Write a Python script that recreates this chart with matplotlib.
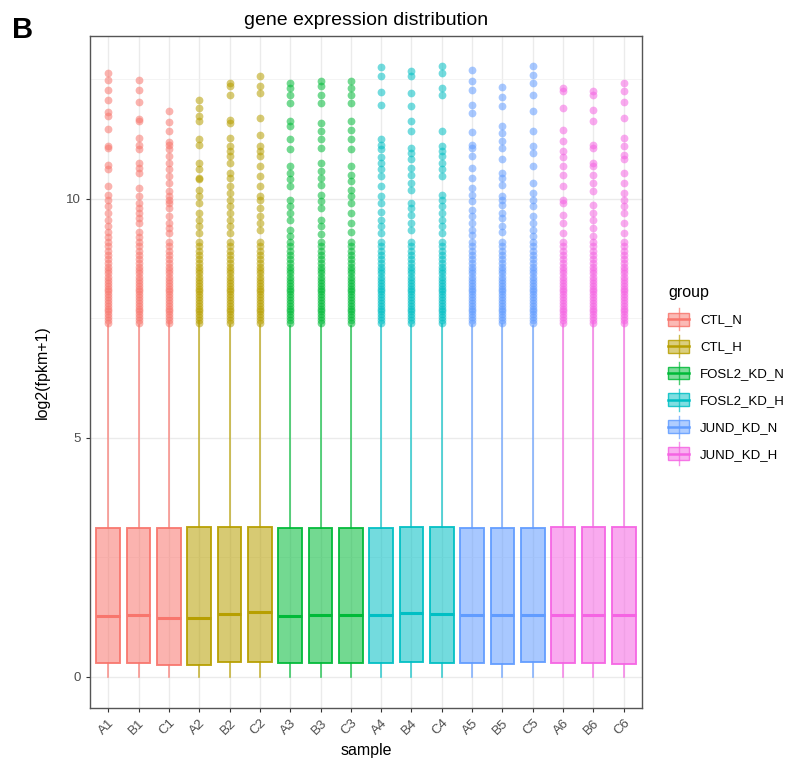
import numpy as np
import matplotlib
matplotlib.use("Agg")
from matplotlib import pyplot as plt
from matplotlib.patches import Rectangle
from matplotlib.lines import Line2D
from matplotlib.legend_handler import HandlerBase

plt.rcParams['font.family'] = ['Liberation Sans', 'DejaVu Sans']

# samples and groups
samples = ["A1", "B1", "C1", "A2", "B2", "C2", "A3", "B3", "C3",
           "A4", "B4", "C4", "A5", "B5", "C5", "A6", "B6", "C6"]
groups = ["CTL_N", "CTL_H", "FOSL2_KD_N", "FOSL2_KD_H", "JUND_KD_N", "JUND_KD_H"]
group_colors = ["#F8766D", "#B79F00", "#00BA38", "#00BFC4", "#619CFF", "#F564E3"]

# box stats (log2(fpkm+1))
q1 = [0.29, 0.30, 0.25, 0.25, 0.31, 0.31, 0.30, 0.30, 0.30,
      0.30, 0.31, 0.30, 0.30, 0.28, 0.31, 0.30, 0.29, 0.28]
med = [1.28, 1.30, 1.24, 1.24, 1.32, 1.35, 1.28, 1.30, 1.30,
       1.30, 1.33, 1.31, 1.30, 1.30, 1.30, 1.30, 1.30, 1.30]
q3 = [3.11, 3.12, 3.12, 3.13, 3.13, 3.13, 3.11, 3.12, 3.11,
      3.12, 3.13, 3.13, 3.12, 3.12, 3.12, 3.14, 3.14, 3.14]
whislo = [0.0] * 18
whishi = [7.35, 7.36, 7.42, 7.44, 7.36, 7.36, 7.33, 7.35, 7.33,
          7.35, 7.36, 7.38, 7.35, 7.38, 7.34, 7.38, 7.41, 7.43]

# dense outlier tail just above the upper whisker (shared by all samples)
dense_tail = [7.40, 7.46, 7.52, 7.58, 7.64, 7.70, 7.76, 7.82, 7.88, 7.94, 8.0, 8.06,
              8.12, 8.18, 8.24, 8.30, 8.37, 8.44, 8.51, 8.58, 8.66, 8.74, 8.82, 8.91,
              9.0, 9.1]

# sparser upper outliers per sample
upper = {
    "A1": [12.62, 12.49, 12.27, 12.06, 11.81, 11.72, 11.46, 11.11, 11.06, 10.71, 10.61,
           10.27, 10.08, 9.98, 9.84, 9.70, 9.56, 9.42, 9.30, 9.20],
    "B1": [12.49, 12.27, 12.02, 11.67, 11.62, 11.27, 11.13, 11.03, 10.75, 10.64, 10.54,
           10.22, 10.05, 9.91, 9.80, 9.70, 9.59, 9.49, 9.30, 9.20],
    "C1": [11.84, 11.60, 11.41, 11.18, 11.13, 11.03, 10.89, 10.75, 10.61, 10.47, 10.33,
           10.15, 10.05, 9.98, 9.91, 9.80, 9.63, 9.49, 9.38, 9.28],
    "A2": [12.07, 11.90, 11.72, 11.62, 11.24, 11.13, 10.75, 10.61, 10.43, 10.40, 10.19,
           10.05, 9.91, 9.70, 9.56, 9.42, 9.28],
    "B2": [12.42, 12.35, 12.17, 11.65, 11.58, 11.27, 11.10, 10.99, 10.89, 10.75, 10.54,
           10.43, 10.26, 10.12, 9.98, 9.84, 9.70, 9.56, 9.42, 9.28],
    "C2": [12.56, 12.35, 12.21, 11.69, 11.34, 11.10, 10.99, 10.89, 10.68, 10.47, 10.26,
           10.05, 9.98, 9.80, 9.63, 9.49, 9.35],
    "A3": [12.42, 12.31, 12.17, 12.00, 11.62, 11.51, 11.24, 11.03, 10.68, 10.54, 10.40,
           10.26, 9.98, 9.84, 9.70, 9.56, 9.35, 9.22],
    "B3": [12.45, 12.35, 12.17, 12.00, 11.58, 11.41, 11.24, 11.06, 10.75, 10.57, 10.43,
           10.29, 10.08, 9.94, 9.80, 9.56, 9.42, 9.25],
    "C3": [12.45, 12.31, 12.17, 12.00, 11.62, 11.44, 11.24, 11.03, 10.68, 10.50, 10.36,
           10.19, 10.05, 9.91, 9.70, 9.49, 9.30],
    "A4": [12.75, 12.56, 12.22, 11.96, 11.24, 11.13, 11.03, 10.86, 10.75, 10.61, 10.47,
           10.26, 10.05, 9.91, 9.73, 9.56, 9.42, 9.28],
    "B4": [12.66, 12.56, 12.21, 11.93, 11.62, 11.41, 11.06, 10.96, 10.82, 10.64, 10.50,
           10.33, 10.19, 9.91, 9.80, 9.66, 9.49, 9.35],
    "C4": [12.77, 12.63, 12.31, 12.17, 11.41, 11.10, 10.99, 10.89, 10.75, 10.61, 10.47,
           10.08, 9.98, 9.84, 9.70, 9.56, 9.42, 9.28],
    "A5": [12.68, 12.45, 12.28, 11.96, 11.79, 11.39, 11.13, 11.06, 10.89, 10.64, 10.43,
           10.22, 10.08, 9.94, 9.77, 9.63, 9.49, 9.35, 9.24],
    "B5": [12.34, 12.13, 11.93, 11.51, 11.37, 11.20, 11.06, 10.82, 10.54, 10.43, 10.29,
           10.05, 9.98, 9.87, 9.70, 9.59, 9.42, 9.31],
    "C5": [12.77, 12.59, 12.42, 12.17, 11.84, 11.41, 11.10, 10.96, 10.68, 10.33, 10.12,
           9.98, 9.84, 9.63, 9.49, 9.35, 9.22],
    "A6": [12.31, 12.24, 11.90, 11.44, 11.20, 10.99, 10.86, 10.69, 10.50, 10.26, 9.98,
           9.91, 9.66, 9.49, 9.28],
    "B6": [12.24, 12.17, 11.86, 11.62, 11.13, 11.06, 10.75, 10.68, 10.50, 10.33, 10.15,
           9.87, 9.70, 9.56, 9.38, 9.22],
    "C6": [12.42, 12.24, 12.03, 11.69, 11.27, 11.10, 10.92, 10.82, 10.54, 10.33, 10.12,
           9.98, 9.84, 9.70, 9.49, 9.28],
}


class BoxKeyHandler(HandlerBase):
    # ggplot-like boxplot legend key
    def create_artists(self, legend, orig_handle, xdescent, ydescent, width, height, fontsize, trans):
        c = orig_handle.get_facecolor()[:3]
        x0, y0 = -xdescent, -ydescent
        arts = []
        arts.append(Line2D([x0 + width / 2] * 2, [y0 - 0.2 * height, y0 + 1.2 * height],
                           color=c, alpha=0.7, lw=1.0, transform=trans))
        arts.append(Rectangle((x0, y0 + 0.1 * height), width, 0.8 * height,
                              facecolor=(*c, 0.5), edgecolor=(*c, 0.85), lw=1.0, transform=trans))
        arts.append(Line2D([x0, x0 + width], [y0 + height / 2] * 2,
                           color=c, lw=1.8, transform=trans))
        return arts


fig = plt.figure(figsize=(7.95, 7.58), dpi=100)
ax = fig.add_axes([90 / 795, 1 - 708 / 758, (642 - 90) / 795, (708 - 36) / 758])

pos = np.arange(1, len(samples) + 1)
for i, s in enumerate(samples):
    col = group_colors[i // 3]
    st = dict(med=med[i], q1=q1[i], q3=q3[i], whislo=whislo[i], whishi=whishi[i],
              fliers=np.array(upper[s] + dense_tail), label=s)
    ax.bxp([st], positions=[pos[i]], widths=0.78, patch_artist=True, showcaps=False,
           boxprops=dict(facecolor=col, edgecolor=col, alpha=0.55, lw=1.3),
           medianprops=dict(color=col, lw=2.2),
           whiskerprops=dict(color=col, alpha=0.75, lw=1.2),
           flierprops=dict(marker='o', markerfacecolor=col, markeredgecolor='none',
                           markersize=5.6, alpha=0.55),
           zorder=3)
    # redraw the box outline with stronger alpha
    ax.add_patch(Rectangle((pos[i] - 0.39, q1[i]), 0.78, q3[i] - q1[i], fill=False,
                           edgecolor=col, lw=1.3, alpha=0.85, zorder=3.5))

ax.set_xlim(0.4, 18.6)
ax.set_ylim(-0.65, 13.4)
ax.set_yticks([0, 5, 10])
ax.set_yticks([2.5, 7.5, 12.5], minor=True)
ax.set_xticks(pos)
ax.set_xticklabels(samples, rotation=45, ha='right', va='top', rotation_mode='anchor')
ax.tick_params(axis='both', colors='#333333', labelcolor='#4D4D4D', labelsize=9.5,
               length=3, width=0.8)
ax.tick_params(axis='y', which='minor', length=0)
ax.grid(True, which='major', color='#EBEBEB', lw=1.0, zorder=0)
ax.grid(True, which='minor', axis='y', color='#F2F2F2', lw=0.6, zorder=0)
ax.set_axisbelow(True)
for sp in ax.spines.values():
    sp.set_color('#555555')
    sp.set_linewidth(1.0)

ax.set_title("gene expression distribution", fontsize=14, pad=8)
ax.set_xlabel("sample", fontsize=11.5, labelpad=4)
ax.set_ylabel("log2(fpkm+1)", fontsize=11.5, labelpad=12)

handles = [Rectangle((0, 0), 1, 1, facecolor=c) for c in group_colors]
leg = fig.legend(handles, groups, title="group", loc='upper left',
                 bbox_to_anchor=(663 / 795, 1 - 280 / 758), frameon=False,
                 handler_map={Rectangle: BoxKeyHandler()},
                 fontsize=9.5, title_fontsize=11.5, handlelength=1.6, handleheight=1.5,
                 labelspacing=0.82, handletextpad=0.8, borderaxespad=0)
leg._legend_box.align = "left"

fig.text(12 / 795, 1 - 30 / 758, "B", fontsize=21, fontweight='bold', va='center', ha='left')

fig.savefig("out.png", dpi=100)
